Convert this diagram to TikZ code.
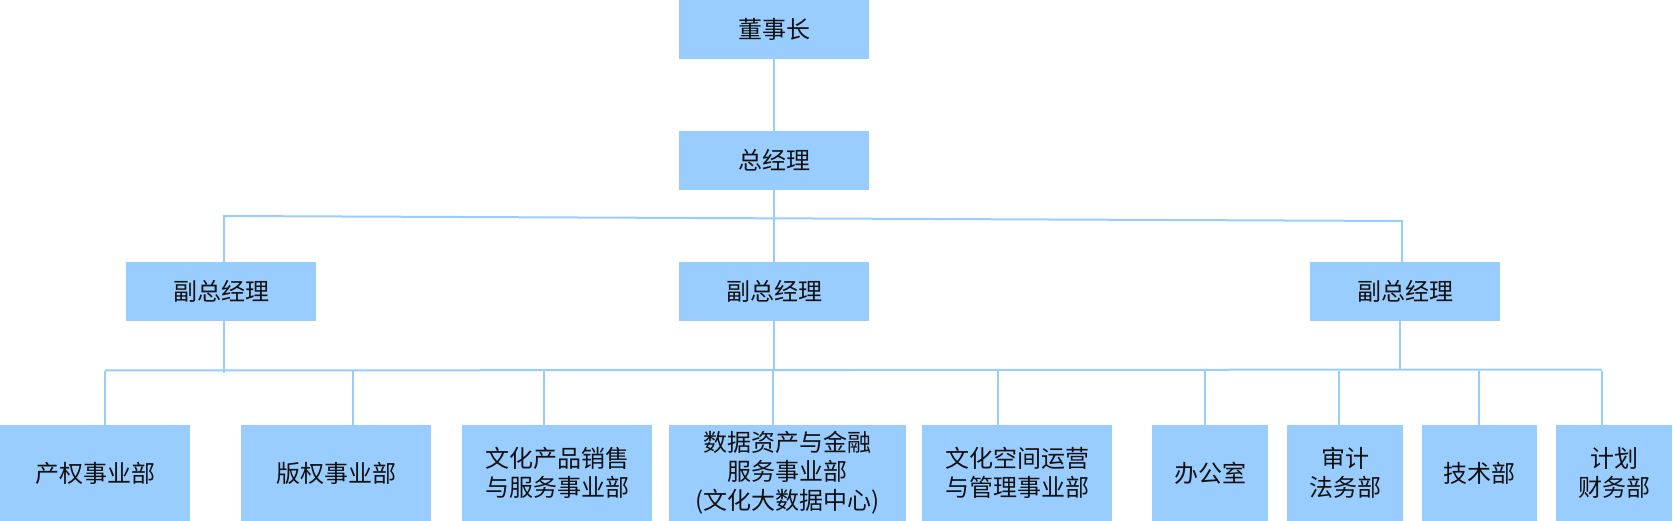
\documentclass[tikz,border=0pt]{standalone}
\usepackage{fontspec}
\newfontfamily\cjk{Noto Sans CJK SC}
\definecolor{boxblue}{HTML}{99CCFF}
\definecolor{lineblue}{HTML}{99CCFF}
\definecolor{txt}{HTML}{111111}
\begin{document}
\begin{tikzpicture}[x=1pt,y=-1pt,
  orgbox/.style={fill=boxblue,draw=none,inner sep=0pt,align=center,text=txt,
    font=\cjk\fontsize{24}{29}\selectfont},
  conn/.style={draw=lineblue,line width=2pt}]
\useasboundingbox (0,0) rectangle (1673,521);
% top levels
\node[orgbox,minimum width=190pt,minimum height=58.7pt] (dsz) at (774,29.35) {董事长};
\node[orgbox,minimum width=190pt,minimum height=59pt] (zjl) at (774,160.5) {总经理};
% deputies
\node[orgbox,minimum width=190pt,minimum height=59pt] (fz1) at (221,291.5) {副总经理};
\node[orgbox,minimum width=190pt,minimum height=59pt] (fz2) at (774,291.5) {副总经理};
\node[orgbox,minimum width=190pt,minimum height=59pt] (fz3) at (1405,291.5) {副总经理};
% departments
\node[orgbox,minimum width=190pt,minimum height=96pt] (b1) at (95,473) {产权事业部};
\node[orgbox,minimum width=190pt,minimum height=96pt] (b2) at (336,473) {版权事业部};
\node[orgbox,minimum width=190pt,minimum height=96pt] (b3) at (557,473) {文化产品销售\\与服务事业部};
\node[orgbox,minimum width=237pt,minimum height=96pt] (b4) at (787.5,473) {数据资产与金融\\服务事业部\\(文化大数据中心)};
\node[orgbox,minimum width=190pt,minimum height=96pt] (b5) at (1017,473) {文化空间运营\\与管理事业部};
\node[orgbox,minimum width=116pt,minimum height=96pt] (b6) at (1210,473) {办公室};
\node[orgbox,minimum width=116pt,minimum height=96pt] (b7) at (1345,473) {审计\\法务部};
\node[orgbox,minimum width=115pt,minimum height=96pt] (b8) at (1479.5,473) {技术部};
\node[orgbox,minimum width=116pt,minimum height=96pt] (b9) at (1614,473) {计划\\财务部};
% top connectors
\draw[conn] (dsz.south) -- (zjl.north);
\coordinate (tbL) at (224,216);
\coordinate (tbR) at (1402,221);
\draw[conn] (tbL |- fz1.north) -- (tbL) -- (tbR) -- (tbR |- fz3.north);
\draw[conn] (zjl.south) -- (fz2.north);
% lower bus
\coordinate (lbL) at (105,370.5);
\coordinate (lbR) at (1602,369.5);
\draw[conn] (lbL) -- (lbR);
\coordinate (d1) at (224,373);
\coordinate (d2) at (774,371);
\coordinate (d3) at (1400,370);
\draw[conn] (d1 |- fz1.south) -- (d1);
\draw[conn] (fz2.south) -- (d2);
\draw[conn] (d3 |- fz3.south) -- (d3);
% drops to departments
\coordinate (v1) at ([xshift=10pt]b1.north);
\coordinate (v2) at ([xshift=17pt]b2.north);
\coordinate (v3) at ([xshift=-13pt]b3.north);
\coordinate (v4) at ([xshift=-14.5pt]b4.north);
\coordinate (v5) at ([xshift=-19pt]b5.north);
\coordinate (v6) at ([xshift=-5pt]b6.north);
\coordinate (v7) at ([xshift=-6pt]b7.north);
\coordinate (v8) at ([xshift=-0.5pt]b8.north);
\coordinate (v9) at ([xshift=-12pt]b9.north);
\foreach \v in {v1,v2,v3,v4,v5,v6,v7,v8,v9}{
  \draw[conn] (\v) -- (\v |- lbL);
}
\end{tikzpicture}
\end{document}
